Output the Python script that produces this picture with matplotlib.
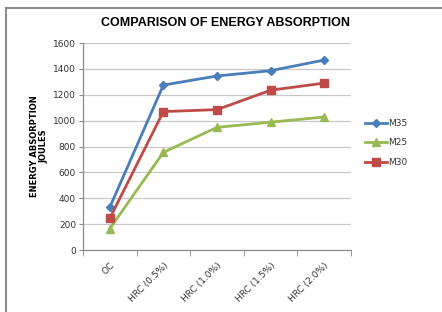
import matplotlib.pyplot as plt
import matplotlib.patches as mpatches
import numpy as np

categories = ["OC", "HRC (0.5%)", "HRC (1.0%)", "HRC (1.5%)", "HRC (2.0%)"]
m35 = [330, 1275, 1345, 1386, 1468]
m25 = [165, 755, 948, 988, 1028]
m30 = [245, 1070, 1085, 1235, 1290]
yticks = [0, 200, 400, 600, 800, 1000, 1200, 1400, 1600]

W, H = 442, 312
fig = plt.figure(figsize=(W/100, H/100), dpi=100)
fig.patch.set_facecolor("white")
# outer chart border
fig.add_artist(mpatches.Rectangle((5.5/W, -0.1), 1.2, (H-7.5)/H + 0.1, transform=fig.transFigure,
                                  fill=False, edgecolor="#8c8c8c", linewidth=1.5))

ax = fig.add_axes([83/W, 1 - 250/H, (351-83)/W, (250-43)/H])
x = np.arange(len(categories))
ax.plot(x, m35, color="#4A7EBB", marker="D", markersize=4.5, linewidth=2, label="M35")
ax.plot(x, m25, color="#98B954", marker="^", markersize=6, linewidth=2, label="M25")
ax.plot(x, m30, color="#BE4B48", marker="s", markersize=6, linewidth=2, label="M30")

ax.set_xlim(-0.5, len(categories) - 0.5)
ax.set_ylim(0, 1600)
ax.set_yticks(yticks)
ax.set_yticklabels([str(v) for v in yticks], fontsize=6.5, color="#333333")
ax.yaxis.grid(True, color="#c8c8c8", linewidth=0.9)
ax.set_axisbelow(True)
ax.set_xticks(x)
ax.set_xticklabels(categories, rotation=45, ha="right", rotation_mode="anchor", fontsize=6.5, color="#333333")
ax.tick_params(axis="x", length=0, pad=8)
ax.set_xticks(np.arange(-0.5, len(categories)), minor=True)
ax.tick_params(axis="x", which="minor", length=4, color="#8c8c8c")
ax.tick_params(axis="y", length=3, color="#8c8c8c", pad=2)
for s in ["top", "right"]:
    ax.spines[s].set_visible(False)
for s in ["left", "bottom"]:
    ax.spines[s].set_color("#8c8c8c")
    ax.spines[s].set_linewidth(0.9)

ax.set_ylabel("ENERGY ABSORPTION\nJOULES", fontsize=6, fontweight="bold", labelpad=3, linespacing=1.1)
fig.text(226/W, 1 - 23/H, "COMPARISON OF ENERGY ABSORPTION", ha="center", va="center",
         fontsize=9, fontweight="bold", family="Liberation Sans")

ax.legend(loc="center left", bbox_to_anchor=(357/W, 1 - 143/H), bbox_transform=fig.transFigure,
          frameon=False, fontsize=6.5, handlelength=2.4, handletextpad=0.1, labelspacing=1.2,
          labelcolor="#333333")

fig.savefig("out.png", dpi=100)
